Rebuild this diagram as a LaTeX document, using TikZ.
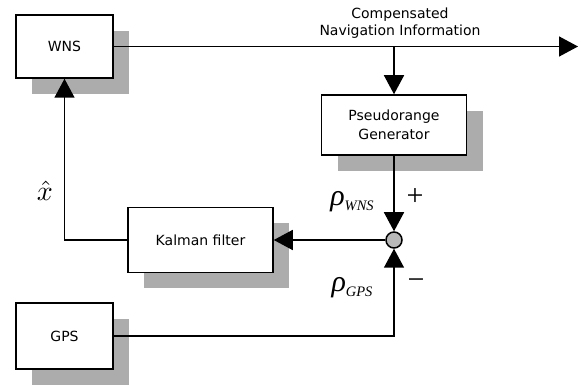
\documentclass[tikz,border=0pt]{standalone}
\usepackage{fontspec}
\setmainfont{DejaVu Sans}
\newfontfamily\timesfont{Liberation Serif}
\usetikzlibrary{arrows.meta,positioning,shadows}

\newcommand{\rhoidx}[1]{{\timesfont\itshape\fontsize{30}{34}\selectfont ρ\raisebox{-5pt}{\fontsize{14.5}{16}\selectfont #1}}}

\begin{document}
\begin{tikzpicture}
 [x=1pt, y=-1pt, >={Triangle[length=19pt,width=20pt]},
  block/.style={rectangle, draw, line width=1.5pt, fill=white, font=\fontsize{14}{19}\selectfont, align=center,
    drop shadow={shadow xshift=16pt, shadow yshift=-16pt, fill=gray!65, opacity=1}},
  sum node/.style={circle, draw, line width=1.5pt, fill=gray!55, minimum size=16pt, inner sep=0pt},
  sign/.style={font=\timesfont\fontsize{30}{34}\selectfont}]
 \useasboundingbox (0,0) rectangle (581,387);

 \node[block, minimum width=97pt, minimum height=63pt] (wns) at (64.5,46.5) {WNS};
 \node[block, minimum width=97pt, minimum height=66pt, node distance=289.5pt] (gps) [below of=wns] {GPS};
 \node[sum node] (sum) at (394,240) {};
 \node[block, minimum width=145pt, minimum height=60pt, node distance=115pt] (prg) [above of=sum] {Pseudorange\\Generator};
 \node[block, minimum width=145pt, minimum height=65pt, node distance=193.5pt] (kf) [left of=sum] {Kalman filter};

 \coordinate (out) at (578,46.5);
 \node[align=center, font=\fontsize{14}{17}\selectfont] (navinfo) at (400,23.5) {Compensated\\Navigation Information};

 \node (rwns) at (352,202) {\rhoidx{WNS}};
 \node[sign] (plus) at (415,197) {+};
 \node (rgps) at (352,288) {\rhoidx{GPS}};
 \node[sign] (minus) at (416,284) {−};
 \node[scale=2.8] (xhat) at (45,191) {$\hat{x}$};

 \path[line width=1.5pt]
  (wns) edge [->] (out)
  (prg |- wns.east) edge [->] (prg)
  (prg) edge [->] (sum)
  (sum) edge [->] (kf);
 \draw[->, line width=1.5pt] (gps) -| (sum);
 \draw[->, line width=1.5pt] (kf) -| (wns);

\end{tikzpicture}
\end{document}
